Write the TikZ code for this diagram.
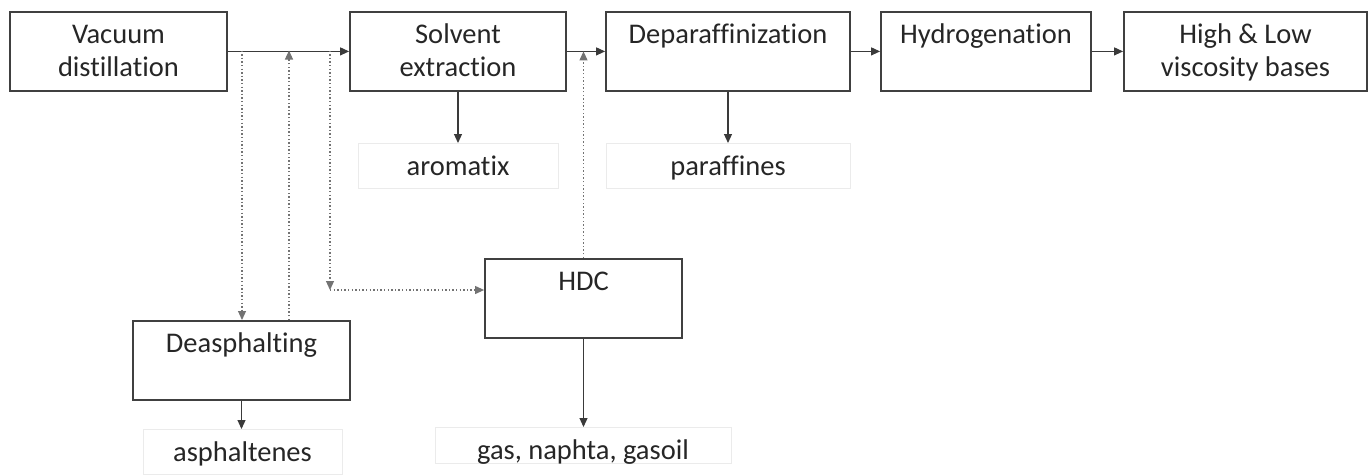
\documentclass[tikz,border=0pt]{standalone}
\usepackage{fontspec}
\setmainfont{Carlito}[Ligatures={NoCommon}]
\usetikzlibrary{arrows.meta}
\definecolor{boxline}{HTML}{404040}
\definecolor{conn}{HTML}{3A3A3A}
\definecolor{lblline}{HTML}{EBEBEB}
\begin{document}
\begin{tikzpicture}[x=1pt,y=-1pt,
  txt/.style={font=\fontsize{28.5}{33}\selectfont, text=black!85, align=center, inner sep=0pt, rectangle},
  procbox/.style={txt, draw=boxline, line width=1.8pt, text height=32pt, text depth=47pt, anchor=north},
  twoline/.style={text height=65pt, text depth=14pt},
  lbl/.style={txt, draw=lblline, line width=1pt, text height=32pt, anchor=north},
  arr/.style={-{Triangle[length=9pt,width=8pt]}, line width=1.1pt, draw=conn},
  dotarr/.style={arr, draw=black!55, dash pattern=on 1.4pt off 2.2pt}
]
\useasboundingbox (0,0) rectangle (1370,475);
% process boxes
\node[procbox, twoline, minimum width=217pt] (vd) at (118.5,11) {Vacuum\\distillation};
\node[procbox, twoline, minimum width=216pt] (se) at (458,11) {Solvent\\extraction};
\node[procbox, minimum width=244pt] (dp) at (728,11) {Deparaffinization};
\node[procbox, minimum width=210pt] (hy) at (986,11) {Hydrogenation};
\node[procbox, twoline, minimum width=243pt] (hl) at (1245.5,11) {High \& Low\\viscosity bases};
\node[procbox, minimum width=217pt] (de) at (241.5,320) {Deasphalting};
\node[procbox, minimum width=197pt] (hdc) at (583.5,258) {HDC};
% product labels
\node[lbl, text depth=13pt, minimum width=200pt] (aro) at (458,143) {aromatix};
\node[lbl, text depth=13pt, minimum width=244pt] (par) at (728,143) {paraffines};
\node[lbl, text depth=13pt, minimum width=199pt] (asp) at (242.5,429) {asphaltenes};
\node[lbl, text depth=4pt, minimum width=296pt] (gas) at (583,427) {gas, naphta, gasoil};
% junction points on main line
\coordinate (j1) at (242,50.5);
\coordinate (j2) at (289,50.5);
\coordinate (j3) at (330,50.5);
\coordinate (c3) at (330,290);
% main flow
\draw[arr] (vd.east) -- (se.west);
\draw[arr] (se.east) -- (dp.west);
\draw[arr] (dp.east) -- (hy.west);
\draw[arr] (hy.east) -- (hl.west);
% products
\draw[arr] (se.south) -- (aro.north);
\draw[arr] (dp.south) -- (par.north);
\draw[arr] (de.south) -- (de.south |- asp.north);
\draw[arr] (hdc.south) -- (hdc.south |- gas.north);
% dotted recycle lines
\draw[dotarr] (j1) -- (j1 |- de.north);
\draw[dotarr] (j2 |- de.north) -- (j2);
\draw[dotarr] (j3) -- (c3);
\draw[dotarr] (c3) -- (c3 -| hdc.west);
\draw[dotarr] (hdc.north) -- (hdc.north |- se.east);
\end{tikzpicture}
\end{document}
